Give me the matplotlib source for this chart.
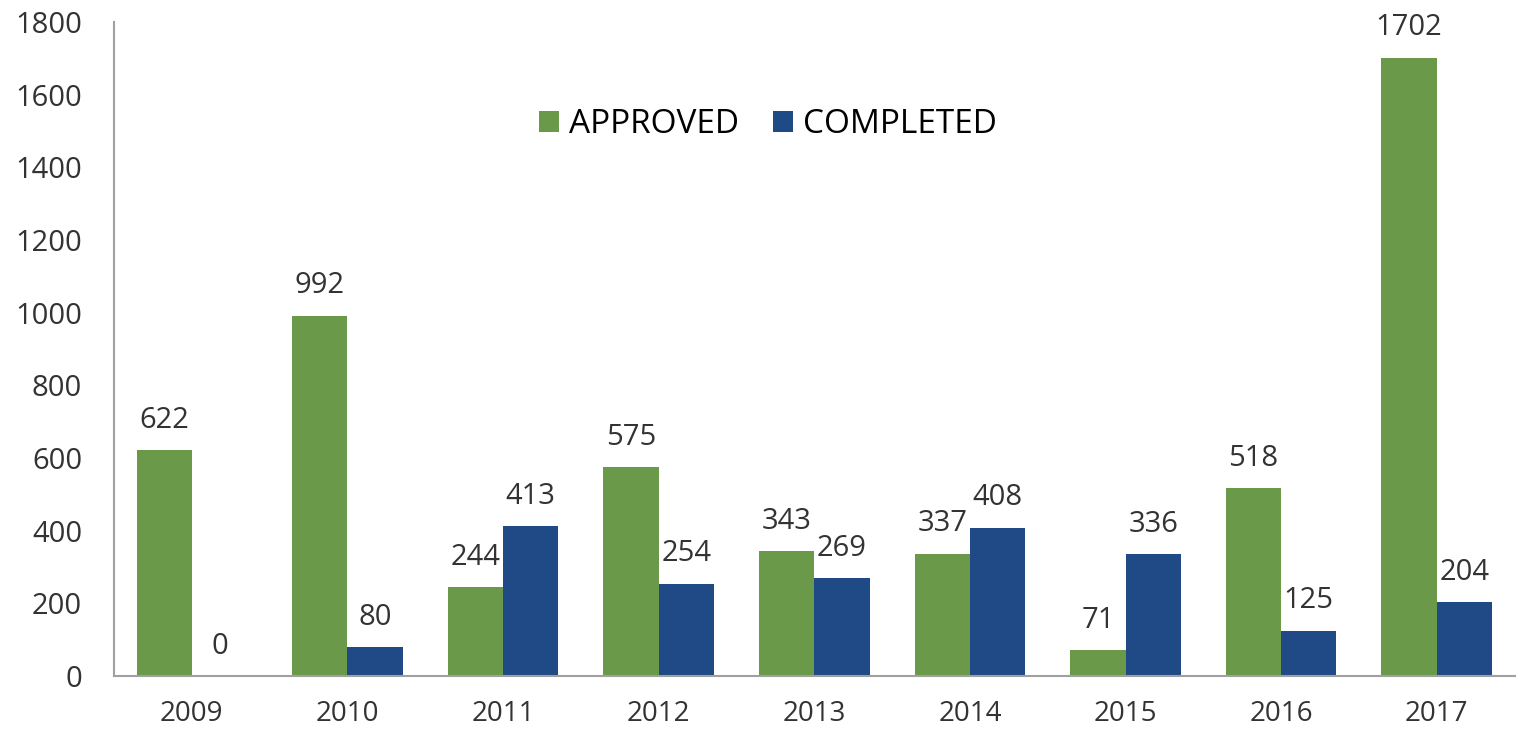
import numpy as np
import matplotlib
matplotlib.use("Agg")
import matplotlib.pyplot as plt

plt.rcParams['font.family'] = ['Open Sans', 'DejaVu Sans']

years = ["2009", "2010", "2011", "2012", "2013", "2014", "2015", "2016", "2017"]
approved = [622, 992, 244, 575, 343, 337, 71, 518, 1702]
completed = [0, 80, 413, 254, 269, 408, 336, 125, 204]

green = "#6a9a49"
blue = "#1f4a85"

fig = plt.figure(figsize=(15.24, 7.34), dpi=100)
ax = fig.add_axes([0.0748, 0.079, 0.919, 0.891])

x = np.arange(len(years))
w = 0.355
b1 = ax.bar(x - w / 2, approved, w, color=green, label="APPROVED")
b2 = ax.bar(x + w / 2, completed, w, color=blue, label="COMPLETED")

for bars in (b1, b2):
    for r in bars:
        ax.annotate(f"{int(r.get_height())}", (r.get_x() + r.get_width() / 2, r.get_height()),
                    xytext=(0, 11), textcoords="offset points", ha="center", va="bottom",
                    fontsize=21, color="#333333")

ax.set_xlim(-0.5, len(years) - 0.5)
ax.set_ylim(0, 1800)
ax.set_yticks(range(0, 1801, 200))
ax.set_xticks(x)
ax.set_xticklabels(years)
ax.tick_params(length=0, labelsize=21, colors="#333333")
ax.tick_params(axis="y", pad=23)
ax.tick_params(axis="x", labelsize=20, pad=17)

for s in ("top", "right"):
    ax.spines[s].set_visible(False)
for s in ("left", "bottom"):
    ax.spines[s].set_color("#a0a0a0")
    ax.spines[s].set_linewidth(1.5)

ax.legend(loc="center", bbox_to_anchor=(0.467, 0.843), ncol=2, frameon=False,
          fontsize=24, handlelength=0.6, handleheight=0.6, handletextpad=0.3,
          columnspacing=1.0)

fig.savefig("out.png", dpi=100)
